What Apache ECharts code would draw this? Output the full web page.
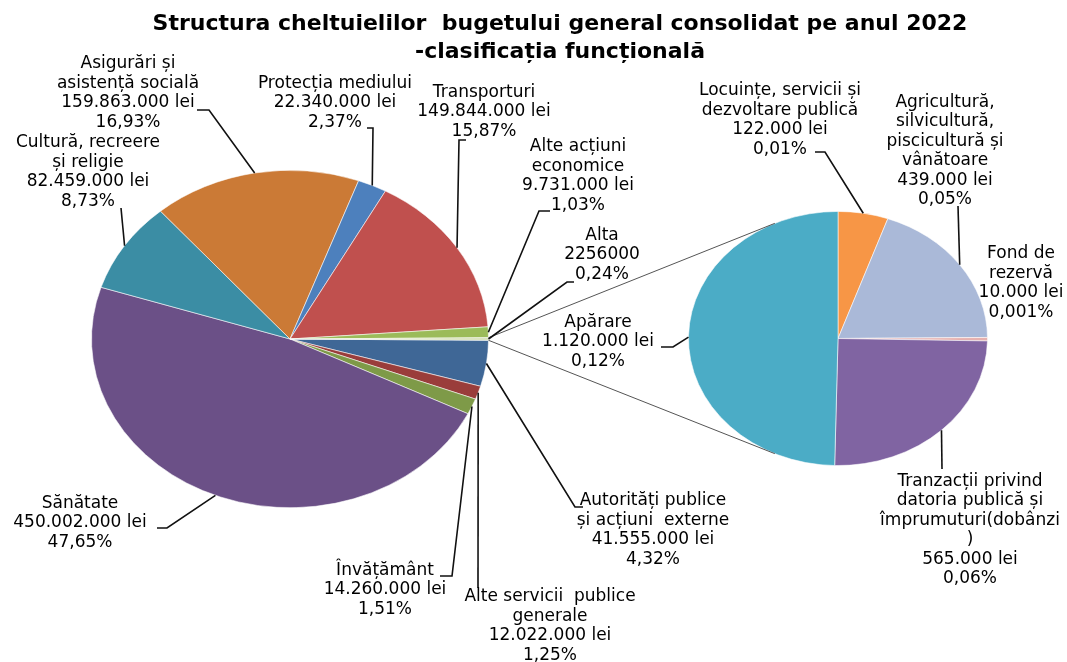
<!DOCTYPE html>
<html>
<head>
<meta charset="utf-8">
<title>Structura cheltuielilor bugetului general consolidat 2022</title>
<script src="https://cdn.jsdelivr.net/npm/echarts@6/dist/echarts.min.js"></script>
<style>
  html, body { margin: 0; padding: 0; background: #fff; }
  #chart { width: 1067px; height: 662px; }
</style>
</head>
<body>
<div id="chart"></div>
<script>
// main pie, slices listed clockwise starting at 3 o'clock
var mainNames = [
  'Autorități publice\nși acțiuni  externe',
  'Alte servicii  publice\ngenerale',
  'Învățământ',
  'Sănătate',
  'Cultură, recreere\nși religie',
  'Asigurări și\nasistență socială',
  'Protecția mediului',
  'Transporturi',
  'Alte acțiuni\neconomice',
  'Alta'
];
var mainValues = [41555000, 12022000, 14260000, 450002000, 82459000, 159863000, 22340000, 149844000, 9731000, 2256000];
var mainPercents = ['4,32%', '1,25%', '1,51%', '47,65%', '8,73%', '16,93%', '2,37%', '15,87%', '1,03%', '0,24%'];

// second pie = breakdown of "Alta", clockwise from 12 o'clock
var subNames = [
  'Locuințe, servicii și\ndezvoltare publică',
  'Agricultură,\nsilvicultură,\npiscicultură și\nvânătoare',
  'Fond de\nrezervă',
  'Tranzacții privind\ndatoria publică și\nîmprumuturi(dobânzi\n)',
  'Apărare'
];
var subValues = [122000, 439000, 10000, 565000, 1120000];
var subPercents = ['0,01%', '0,05%', '0,001%', '0,06%', '0,12%'];

var otherName = 'Alta';

// ---- layout / style ----
var FONT = '17px "DejaVu Sans", Verdana, sans-serif';
var mainPie = { cx: 290, cy: 339, r: 198.5, squash: 0.85 };
var subPie = { cx: 838, cy: 338.5, r: 149.5, squash: 0.85 };
var connectAngle = 115; // degrees from 3 o'clock where the joining lines meet the second pie

var mainColors = ['#3F6796', '#9A3D3B', '#7E9A48', '#6B5087', '#3B8DA4', '#CB7A36', '#4D80BD', '#C0504E', '#9BBB59', '#D3DFB5'];
var subColors = ['#F79646', '#AAB9D8', '#E6B1AF', '#8064A2', '#4BACC6'];

var mainLabelAt = [[653, 530], [550, 626], [385, 590], [80, 523], [88, 172], [128, 93], [335, 103], [484, 112], [578, 176], [602, 255]];
var mainLeader = [
  [[575, 507], [583, 507]],
  [[478, 588]],
  [[452, 576], [440, 576]],
  [[167, 528], [157, 528]],
  [[121, 208]],
  [[209, 110], [197, 110]],
  [[373, 128], [367, 128]],
  [[459, 140], [466, 140]],
  [[539, 211], [550, 211]],
  [[567, 282], [574, 282]]
];
var subLabelAt = [[780, 120], [945, 151], [1021, 283], [970, 530], [598, 342]];
var subLeader = [
  [[825, 152], [815, 152]],
  [[958, 206]],
  [],
  [[942, 469]],
  [[673, 347], [661, 347]]
];

function fmt(v) {
  return String(v).replace(/\B(?=(\d{3})+(?!\d))/g, '.');
}

function labelText(name, value, pct) {
  var v = name === otherName ? String(value) : fmt(value) + ' lei';
  return name + '\n' + v + '\n' + pct;
}

function sliceAngles(values, start) {
  var total = values.reduce(function (s, v) { return s + v; }, 0);
  var acc = start;
  return values.map(function (v) {
    var a0 = acc;
    acc += v / total * Math.PI * 2;
    return [a0, acc];
  });
}

function ellipsePoint(pie, a) {
  return [pie.cx + pie.r * Math.cos(a), pie.cy + pie.r * pie.squash * Math.sin(a)];
}

var mainTotal = mainValues.reduce(function (s, v) { return s + v; }, 0);
var otherIdx = mainNames.indexOf(otherName);
var otherSweep = mainValues[otherIdx] / mainTotal * Math.PI * 2;
// the "Alta" slice sits centred on 3 o'clock
var mainAngles = sliceAngles(mainValues, otherSweep / 2);
var subAngles = sliceAngles(subValues, -Math.PI / 2);

function pieRenderer(pie, angles, names, values, pcts, colors, labelAt, leaders) {
  return function (params, api) {
    var i = params.dataIndex;
    var a = angles[i];
    var mid = (a[0] + a[1]) / 2;
    var children = [{
      type: 'sector',
      shape: { cx: pie.cx, cy: pie.cy, r: pie.r, startAngle: a[0], endAngle: a[1], clockwise: true },
      originX: pie.cx,
      originY: pie.cy,
      scaleY: pie.squash,
      style: { fill: colors[i], stroke: '#fff', lineWidth: 0.6 }
    }];
    if (leaders[i].length) {
      children.push({
        type: 'polyline',
        z2: 10,
        shape: { points: [ellipsePoint(pie, mid)].concat(leaders[i]) },
        style: { stroke: '#111', lineWidth: 1.6, fill: 'none' }
      });
    }
    if (names[i] === otherName) {
      var ca = connectAngle * Math.PI / 180;
      var p0 = ellipsePoint(pie, a[0]), p1 = ellipsePoint(pie, a[1]);
      var q0 = ellipsePoint(subPie, -ca), q1 = ellipsePoint(subPie, ca);
      children.push({
        type: 'line', z2: 5,
        shape: { x1: p0[0], y1: p0[1], x2: q0[0], y2: q0[1] },
        style: { stroke: '#555', lineWidth: 1 }
      }, {
        type: 'line', z2: 5,
        shape: { x1: p1[0], y1: p1[1], x2: q1[0], y2: q1[1] },
        style: { stroke: '#555', lineWidth: 1 }
      });
    }
    children.push({
      type: 'text',
      z2: 20,
      x: labelAt[i][0],
      y: labelAt[i][1],
      style: {
        text: labelText(names[i], values[i], pcts[i]),
        fill: '#000',
        font: FONT,
        align: 'center',
        verticalAlign: 'middle',
        lineHeight: 19.5
      }
    });
    return { type: 'group', children: children };
  };
}

var chart = echarts.init(document.getElementById('chart'));
chart.setOption({
  backgroundColor: '#fff',
  animation: false,
  graphic: [{
    type: 'text',
    x: 560,
    y: 10,
    style: {
      text: 'Structura cheltuielilor  bugetului general consolidat pe anul 2022\n-clasificația funcțională',
      fill: '#000',
      font: 'bold 22px "DejaVu Sans", sans-serif',
      align: 'center',
      verticalAlign: 'top',
      lineHeight: 28
    }
  }],
  series: [{
    type: 'custom',
    coordinateSystem: 'none',
    silent: true,
    data: mainValues,
    renderItem: pieRenderer(mainPie, mainAngles, mainNames, mainValues, mainPercents, mainColors, mainLabelAt, mainLeader)
  }, {
    type: 'custom',
    coordinateSystem: 'none',
    silent: true,
    data: subValues,
    renderItem: pieRenderer(subPie, subAngles, subNames, subValues, subPercents, subColors, subLabelAt, subLeader)
  }]
});
</script>
</body>
</html>
